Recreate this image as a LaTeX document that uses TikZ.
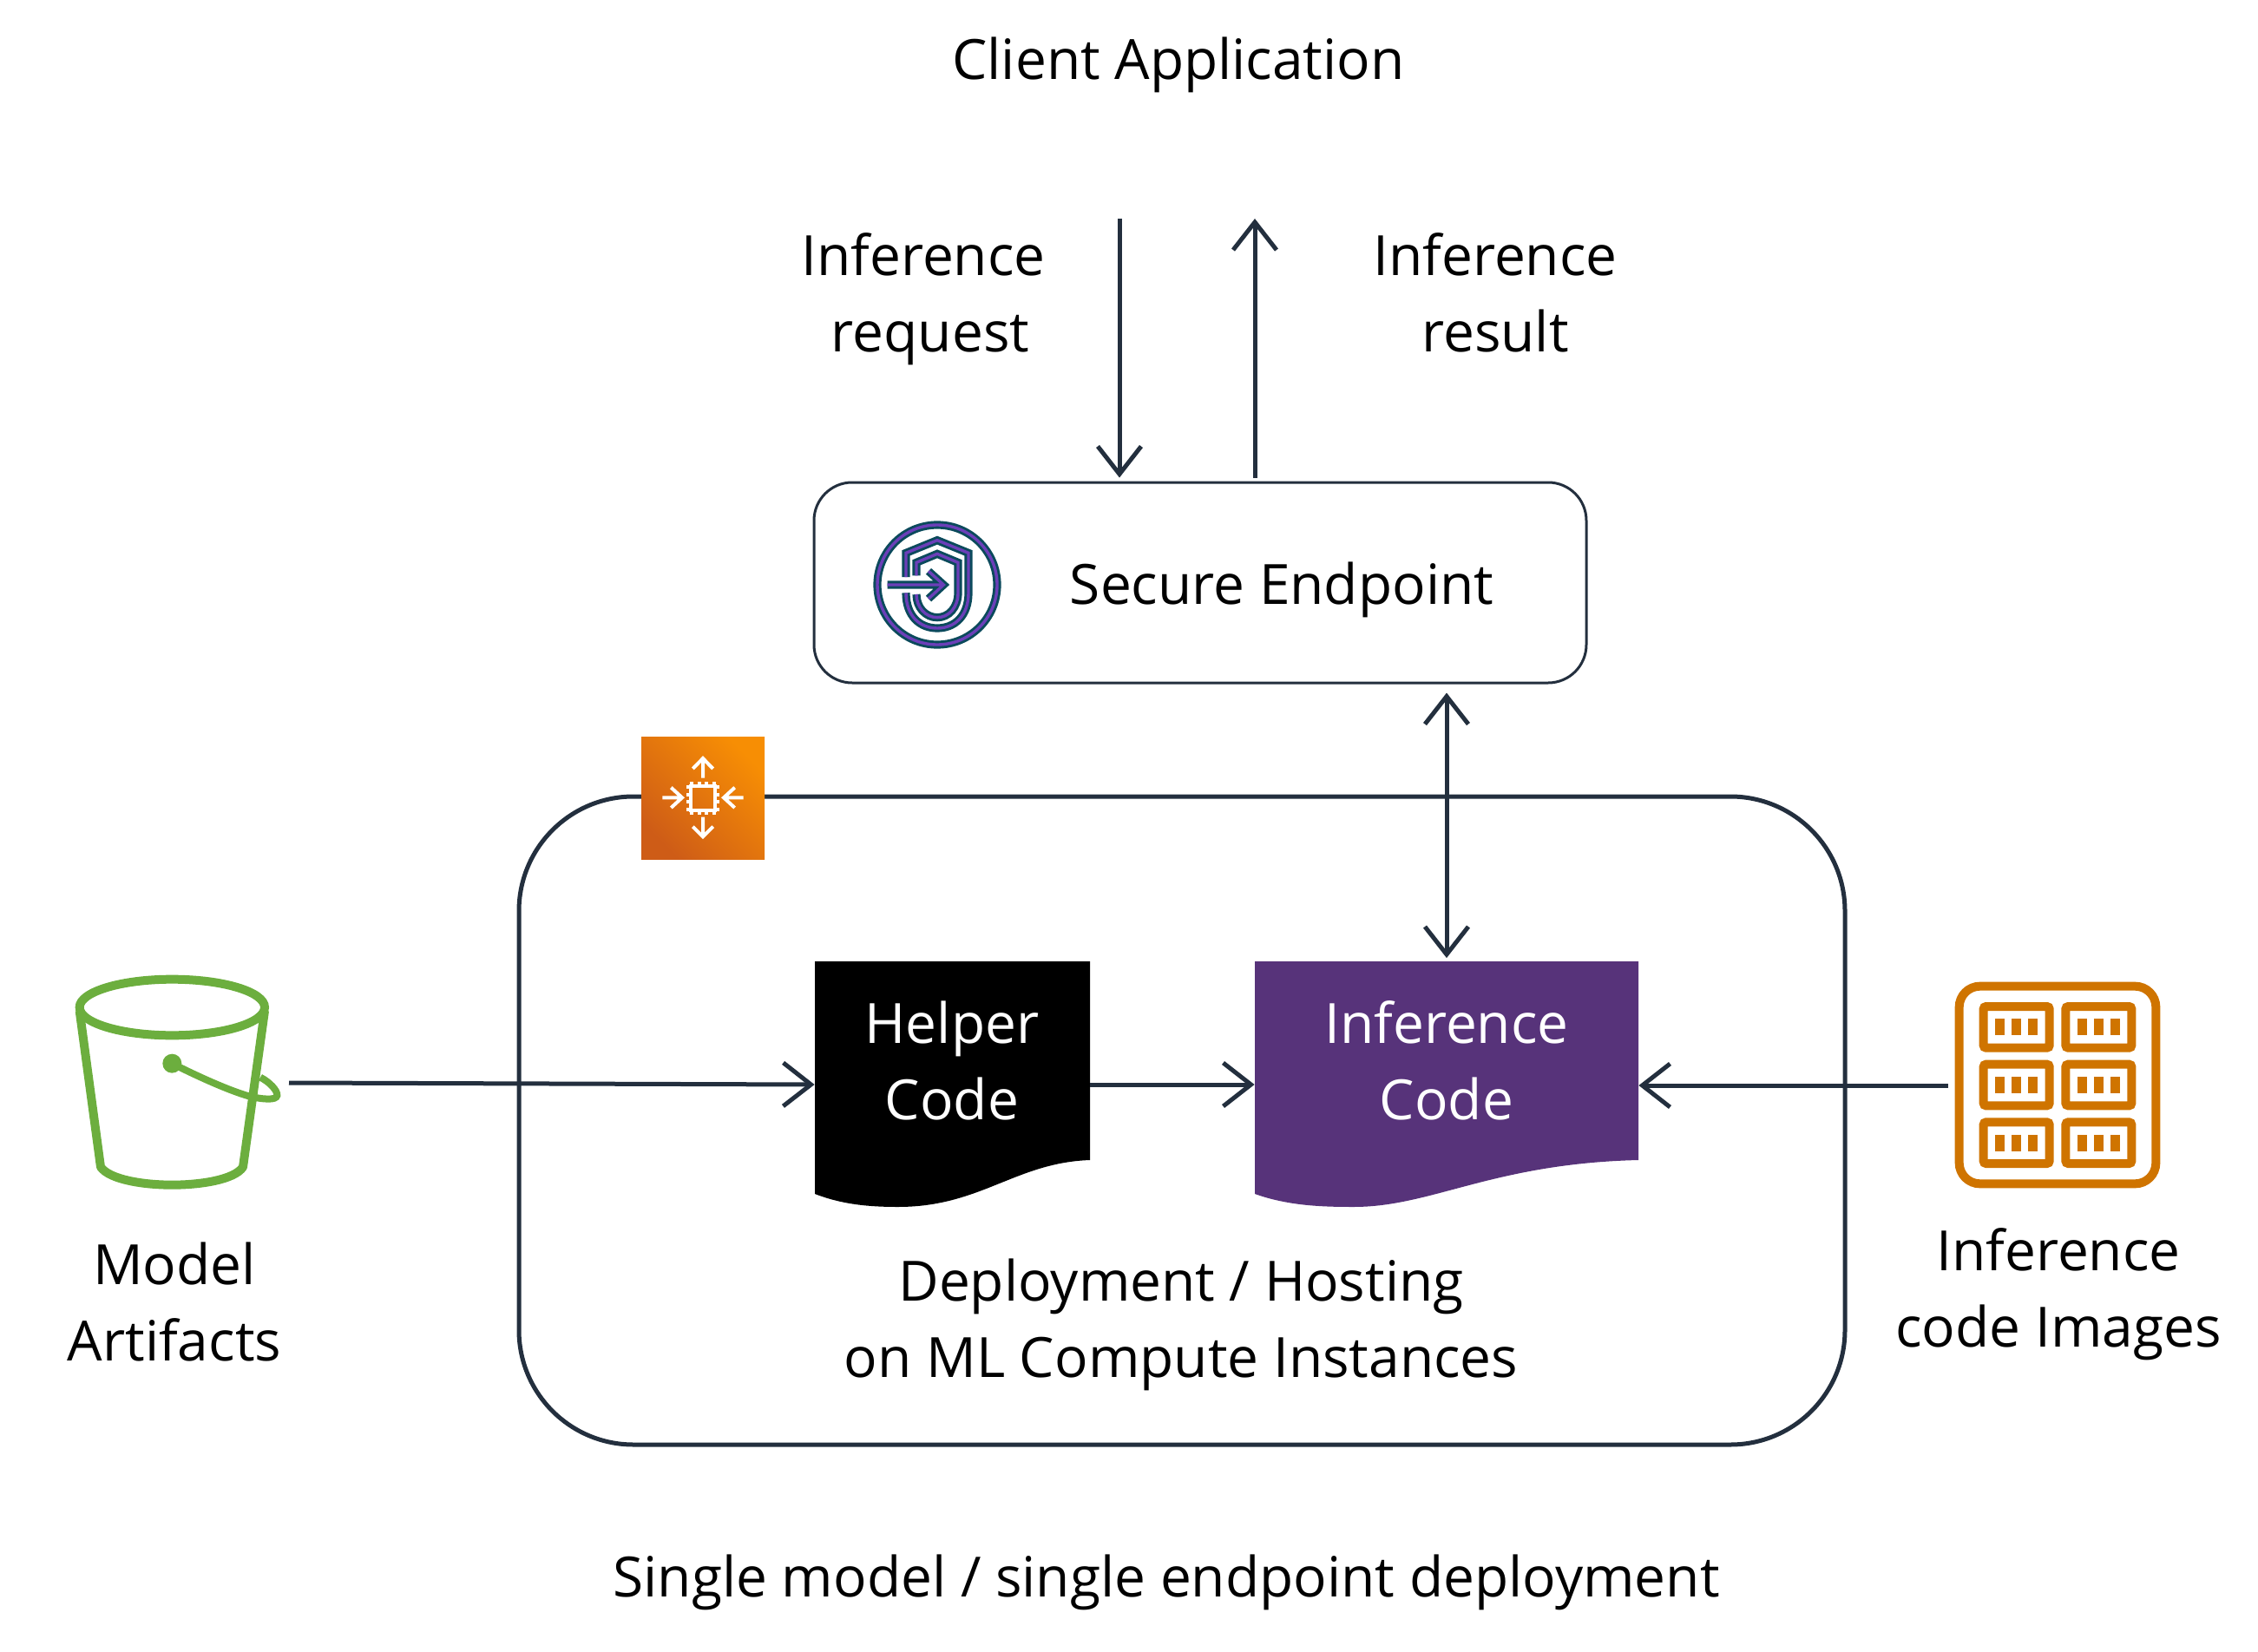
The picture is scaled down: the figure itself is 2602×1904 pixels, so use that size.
\documentclass[tikz,border=0pt]{standalone}
\usepackage{fontspec}
\setmainfont{Open Sans}
\usetikzlibrary{arrows.meta,shapes.geometric}
\definecolor{ink}{HTML}{232F3E}
\definecolor{plum}{HTML}{57337A}
\definecolor{bucket}{HTML}{6CAE3E}
\definecolor{amber}{HTML}{CF7400}
\definecolor{tealx}{HTML}{0B4A5C}
\definecolor{violetx}{HTML}{6B3FB8}
\definecolor{orgA}{HTML}{CE5C17}
\definecolor{orgB}{HTML}{F78E04}
\tikzset{
 txt/.style={font=\fontsize{32}{44}\selectfont,align=center,inner sep=0pt,text=black},
 conn/.style={draw=ink,line width=2.5pt,-{Straight Barb[length=16pt,width=25pt,line width=2.5pt]}},
 biconn/.style={draw=ink,line width=2.5pt,{Straight Barb[length=16pt,width=25pt,line width=2.5pt]}-{Straight Barb[length=16pt,width=25pt,line width=2.5pt]}},
 docbox/.style={inner sep=0pt,minimum height=141.5pt},
 zoomed/.style={x=0.16667pt,y=-0.16667pt},
}
\newcommand{\shieldicon}{%
 (192,255) -- (192,172) -- (300,128) -- (408,172) -- (408,310) .. controls (408,390) and (360,432) .. (300,432) .. controls (240,432) and (192,390) .. (192,310)
 (228,250) -- (228,205) -- (300,175) -- (372,205) -- (372,310) .. controls (372,360) and (340,395) .. (300,395) .. controls (260,395) and (228,360) .. (228,315)
 (128,282) -- (322,282)
 (270,235) -- (322,282) -- (270,330)}
\begin{document}
\begin{tikzpicture}[x=0.5pt,y=-0.5pt]
\useasboundingbox (0,0) rectangle (2602,1904);
% deployment box
\node[draw=ink,line width=2.5pt,rounded corners=66pt,minimum width=764pt,minimum height=373.5pt,inner sep=0pt] (deploy) at (1362,1291.5) {};
% secure endpoint
\node[draw=ink,line width=1.5pt,rounded corners=22pt,minimum width=445pt,minimum height=115.5pt,inner sep=0pt] (secure) at (1383,671.5) {};
% documents
\fill[black] (939,1108) -- (1256,1108) -- (1256,1337) .. controls (1170,1340) and (1130,1391) .. (1035,1391) .. controls (1000,1391) and (970,1388) .. (939,1376) -- cycle;
\fill[plum] (1446,1108) -- (1888,1108) -- (1888,1337) .. controls (1720,1341) and (1650,1391) .. (1560,1391) .. controls (1525,1391) and (1485,1390) .. (1446,1376) -- cycle;
\node[docbox,minimum width=158.5pt] (helper) at (1097.5,1250) {};
\node[docbox,minimum width=221pt] (inference) at (1667,1250) {};
% orange
\shade[bottom color=orgA,top color=orgB,shading angle=-45] (739,849) rectangle (881,990);
\node[inner sep=0pt,minimum size=71pt] (compute) at (810,919) {};
\begin{scope}[shift={(720,830)},zoomed,draw=white,line width=2pt]
 \draw (270,200) -- (270,132) (235,168) -- (270,132) -- (305,168);
 \draw (270,335) -- (270,403) (235,368) -- (270,403) -- (305,368);
 \draw (130,268) -- (198,268) (160,233) -- (198,268) -- (160,303);
 \draw (410,268) -- (342,268) (380,233) -- (342,268) -- (380,303);
 \draw (229,229) rectangle (311,311);
 \foreach \p in {232,257,283,308}{
  \draw (\p,213) -- (\p,225) (\p,315) -- (\p,327) (213,\p) -- (225,\p) (315,\p) -- (327,\p);
 }
\end{scope}
% shield
\begin{scope}[shift={(980,580)},zoomed]
 \foreach \c/\w in {tealx/4.6pt,violetx/1.7pt}{
  \draw[\c,line width=\w] (300,282) circle[radius=207];
  \draw[\c,line width=\w] \shieldicon;
 }
\end{scope}
% bucket
\begin{scope}[shift={(60,1110)},zoomed,draw=bucket,line width=5pt]
 \draw (415,153) ellipse[x radius=320,y radius=97];
 \draw[line join=round] (95,165) -- (168,705) .. controls (200,750) and (320,767) .. (415,767) .. controls (510,767) and (630,750) .. (660,705) -- (735,165);
 \fill[bucket] (415,347) circle[radius=33];
 \draw[line width=4pt] (415,347) .. controls (500,390) and (610,440) .. (680,460) .. controls (730,472) and (775,475) .. (778,458) .. controls (780,440) and (750,410) .. (720,395);
\end{scope}
% images
\begin{scope}[shift={(2240,1120)},zoomed,draw=amber,fill=amber,line width=5pt]
 \draw[rounded corners=12pt] (53,50) rectangle (733,733);
 \foreach \cx in {137,421}{
  \foreach \ry in {120,320,520}{
   \draw[rounded corners=1.5pt] (\cx,\ry) rectangle ++(228,143);
   \foreach \b in {41,98,155}{
    \fill[draw=none] (\cx+\b,\ry+43) rectangle ++(32,57);
   }
  }
 }
\end{scope}
% texts
\node[txt] (client) at (1358,75) {Client Application};
\node[txt] (reqlbl) at (1064,345) {Inference\\\hspace*{8pt}request};
\node[txt] (reslbl) at (1723,337) {Inference\\result};
\node[txt] (seclbl) at (1477,680) {Secure Endpoint};
\node[txt,text=white] (helptxt) at (1097,1222) {Helper\\Code};
\node[txt,text=white] (inftxt) at (1667,1222) {Inference\\Code};
\node[txt] (deplbl) at (1361,1527) {Deployment / Hosting\\on ML Compute Instances};
\node[txt] (modlbl) at (201,1500) {Model\\Artifacts};
\node[txt] (imglbl) at (2372,1492) {Inference\\code Images};
\node[txt] (title) at (1344,1824) {Single model / single endpoint deployment};
% connector ends
\coordinate (reqstart) at (1290,252);
\coordinate (resend) at (1446,252);
\coordinate (bucketout) at (333,1248);
\coordinate (imagesout) at (2245,1251);
% connectors
\draw[conn,shorten >=2pt] (reqstart) -- (reqstart |- secure.north);
\draw[conn,shorten <=2pt] (secure.north -| resend) -- (resend);
\draw[biconn,shorten <=5pt,shorten >=2pt] (secure.south -| inference.north) -- (inference.north);
\draw[conn] (bucketout) -- (helper.west);
\draw[conn] (helper.east) -- (inference.west);
\draw[conn] (imagesout) -- (imagesout -| inference.east);
\end{tikzpicture}
\end{document}
